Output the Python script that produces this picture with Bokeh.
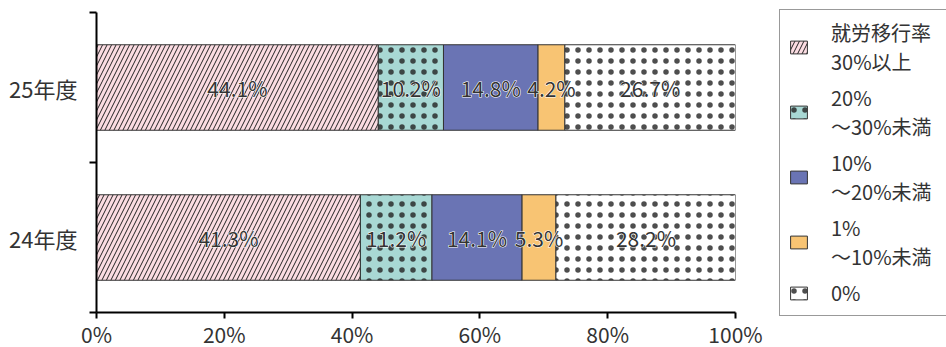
from bokeh.plotting import figure
from bokeh.models import ColumnDataSource, FixedTicker, Legend, LegendItem, Range1d
from bokeh.core.properties import value
from bokeh.embed import file_html
from bokeh.resources import INLINE

# ---- data ----
years = ["24年度", "25年度"]          # bottom to top
series_names = ["就労移行率\n30%以上", "20%\n～30%未満", "10%\n～20%未満", "1%\n～10%未満", "0%"]
v_30plus = [41.3, 44.1]
v_20_30 = [11.2, 10.2]
v_10_20 = [14.1, 14.8]
v_1_10 = [5.3, 4.2]
v_0 = [28.2, 26.7]
x_ticks = [0, 20, 40, 60, 80, 100]
x_tick_labels = ["0%", "20%", "40%", "60%", "80%", "100%"]

series = [v_30plus, v_20_30, v_10_20, v_1_10, v_0]
fills = ["#FBDCE2", "#A8D8D4", "#6A74B4", "#F8C473", "#FFFFFF"]
hatches = ["/", ".", " ", " ", "."]
hatch_scales = [9, 11, 12, 12, 11]
hatch_weights = [1, 0.2, 1, 1, 0.2]
hatch_alphas = [1, 0.8, 1, 1, 0.8]

FONT = "Noto Sans CJK JP"
TXT = "#333333"

p = figure(frame_width=639, frame_height=300, output_backend="svg", toolbar_location=None,
           x_range=Range1d(0, 100), y_range=Range1d(0, 2),
           min_border_left=96, min_border_right=211, min_border_top=12, min_border_bottom=30)
p.outline_line_color = None
p.grid.visible = False
p.background_fill_color = "white"
p.border_fill_color = "white"

ypos = [i + 0.5 for i in range(len(years))]
left = [0.0] * len(years)
items = []
label_sources = []
for k, vals in enumerate(series):
    right = [l + v for l, v in zip(left, vals)]
    src = ColumnDataSource(dict(y=ypos, left=left, right=right,
                                mid=[(l + r) / 2 for l, r in zip(left, right)],
                                lab=[f"{v:.1f}%" for v in vals]))
    r = p.hbar(y="y", left="left", right="right", height=0.57, source=src,
               fill_color=fills[k], line_color="#333333", line_width=1,
               hatch_pattern=hatches[k], hatch_color="#222222",
               hatch_scale=hatch_scales[k], hatch_weight=hatch_weights[k],
               hatch_alpha=hatch_alphas[k])
    items.append(LegendItem(label=series_names[k], renderers=[r]))
    label_sources.append(src)
    left = right

for src in label_sources:
    # white halo
    p.text(x="mid", y="y", text="lab", source=src, text_align="center", text_baseline="middle",
           text_font=value(FONT), text_font_size="21px", text_color="white",
           text_outline_color="white")
    p.text(x="mid", y="y", text="lab", source=src, text_align="center", text_baseline="middle",
           text_font=value(FONT), text_font_size="21px", text_color=TXT)

# x axis
xa = p.xaxis[0]
xa.ticker = FixedTicker(ticks=x_ticks, minor_ticks=[])
xa.major_label_overrides = {t: l for t, l in zip(x_ticks, x_tick_labels)}
xa.axis_line_width = 2
xa.axis_line_color = "black"
xa.major_tick_line_width = 2
xa.major_tick_line_color = "black"
xa.major_tick_out = 6
xa.major_tick_in = 0
xa.major_label_text_font = FONT
xa.major_label_text_font_size = "21px"
xa.major_label_text_color = TXT
xa.major_label_standoff = 0

# y axis: labels at centers, ticks at boundaries
ya = p.yaxis[0]
ya.ticker = FixedTicker(ticks=ypos, minor_ticks=list(range(len(years) + 1)))
ya.major_label_overrides = {y: n for y, n in zip(ypos, years)}
ya.axis_line_width = 2
ya.axis_line_color = "black"
ya.major_tick_line_color = None
ya.major_tick_out = 0
ya.minor_tick_line_color = "black"
ya.minor_tick_line_width = 2
ya.minor_tick_out = 7
ya.minor_tick_in = 0
ya.major_label_text_font = FONT
ya.major_label_text_font_size = "22px"
ya.major_label_text_color = TXT
ya.major_label_standoff = 12

legend = Legend(items=items, location=(44, -4), orientation="vertical",
                label_text_font=FONT, label_text_font_size="20px", label_text_color=TXT,
                glyph_width=21, glyph_height=16, label_standoff=22, spacing=7,
                padding=8, margin=0, label_width=108,
                border_line_color="#333333", border_line_width=1,
                background_fill_color="white", background_fill_alpha=1)
p.add_layout(legend, "right")

open("out.html", "w").write(file_html(p, INLINE))
